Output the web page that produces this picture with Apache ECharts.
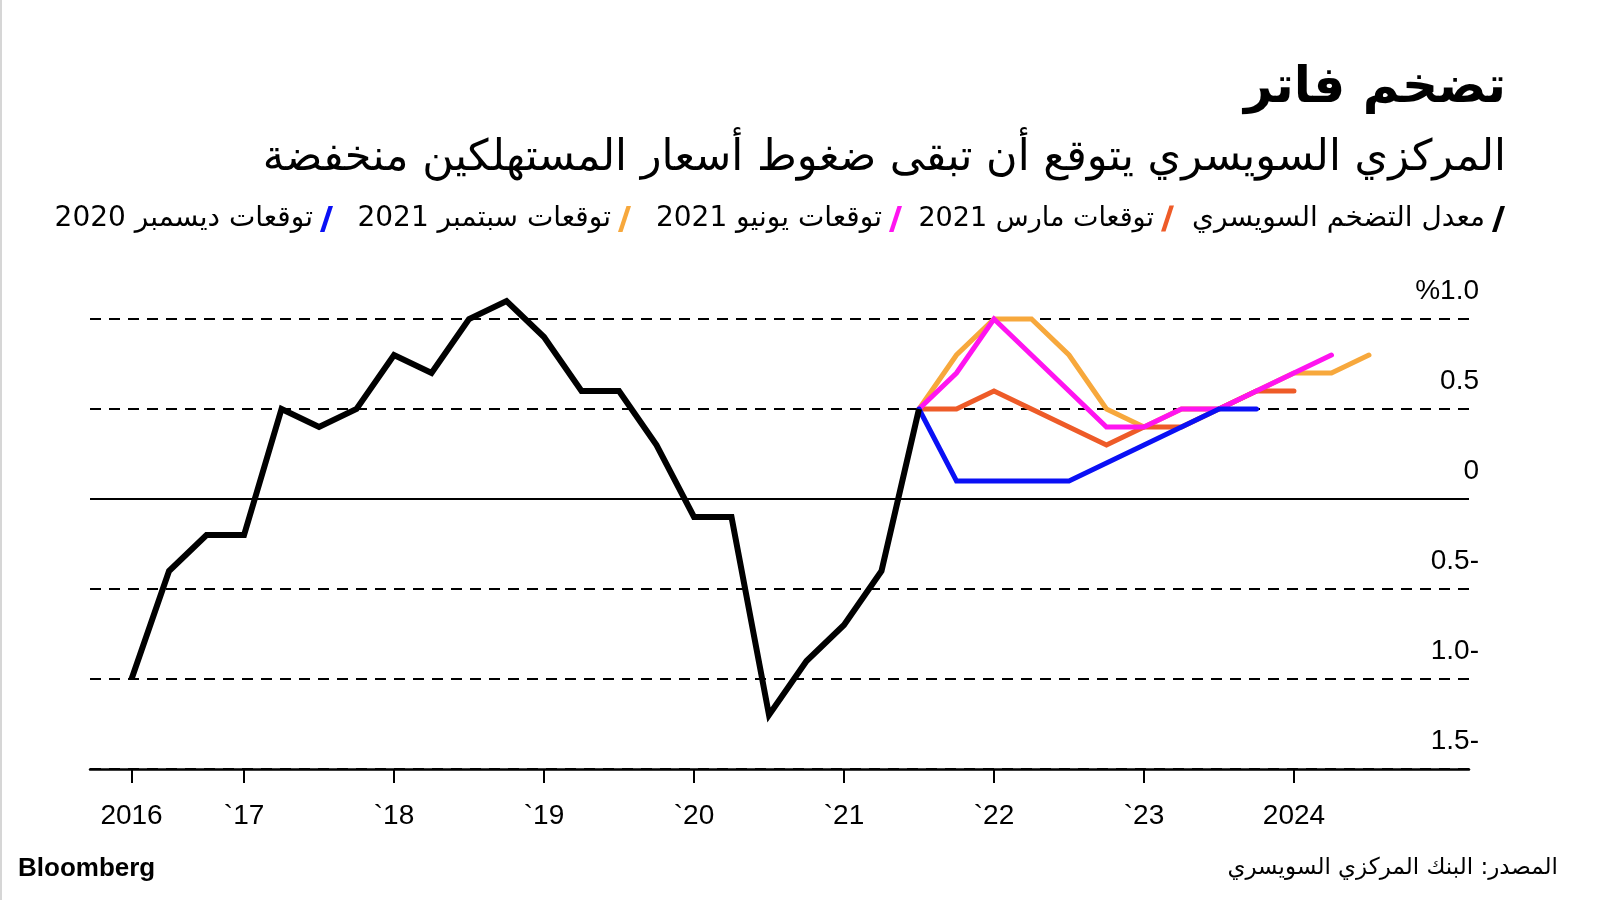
<!DOCTYPE html>
<html><head><meta charset="utf-8">
<script src="https://cdn.jsdelivr.net/npm/echarts@6/dist/echarts.min.js"></script>
<style>html,body{margin:0;padding:0;background:#fff}#c{width:1600px;height:900px}</style>
</head><body><div id="c"></div>
<script>
// ---- text ----
const titleText = 'تضخم فاتر';
const subtitleText = 'المركزي السويسري يتوقع أن تبقى ضغوط أسعار المستهلكين منخفضة';
const sourceText = 'المصدر: البنك المركزي السويسري';
const brandText = 'Bloomberg';

// ---- categories (quarters) ----
const quarters = ["2016Q2","2016Q3","2016Q4","2017Q1","2017Q2","2017Q3","2017Q4","2018Q1","2018Q2","2018Q3","2018Q4",
  "2019Q1","2019Q2","2019Q3","2019Q4","2020Q1","2020Q2","2020Q3","2020Q4","2021Q1","2021Q2","2021Q3","2021Q4",
  "2022Q1","2022Q2","2022Q3","2022Q4","2023Q1","2023Q2","2023Q3","2023Q4","2024Q1","2024Q2","2024Q3"];

// ---- series names ----
const nameActual = 'معدل التضخم السويسري';
const nameMar21 = 'توقعات مارس 2021';
const nameJun21 = 'توقعات يونيو 2021';
const nameSep21 = 'توقعات سبتمبر 2021';
const nameDec20 = 'توقعات ديسمبر 2020';

// ---- values (%, quarterly) ----
const actualStart = "2016Q2";
const actual = [-1.0,-0.4,-0.2,-0.2,0.5,0.4,0.5,0.8,0.7,1.0,1.1,0.9,0.6,0.6,0.3,-0.1,-0.1,-1.2,-0.9,-0.7,-0.4,0.5];
const forecastStart = "2021Q3";
const fcDec20 = [0.5,0.1,0.1,0.1,0.1,0.2,0.3,0.4,0.5,0.5];
const fcMar21 = [0.5,0.5,0.6,0.5,0.4,0.3,0.4,0.4,0.5,0.6,0.6];
const fcJun21 = [0.5,0.7,1.0,0.8,0.6,0.4,0.4,0.5,0.5,0.6,0.7,0.8];
const fcSep21 = [0.5,0.8,1.0,1.0,0.8,0.5,0.4,0.5,0.5,0.6,0.7,0.7,0.8];

// ---- ticks ----
const yTicks = [-1.5,-1.0,-0.5,0,0.5,1.0];
const yTickLabels = ['1.5-','1.0-','0.5-','0','0.5','%1.0'];
const xTickQuarters = ["2016Q2","2017Q1","2018Q1","2019Q1","2020Q1","2021Q1","2022Q1","2023Q1","2024Q1"];
const xTickLabels = ['2016','`17','`18','`19','`20','`21','`22','`23','2024'];

// ---- helpers ----
function qToYear(q){ return parseInt(q.slice(0,4),10) + (parseInt(q.slice(5),10)-1)/4; }
function pairs(start, vals){
  const i0 = quarters.indexOf(start);
  return vals.map((v,i)=>[qToYear(quarters[i0+i]), v]);
}
const xTickValues = xTickQuarters.map(qToYear);

const AR = "'DejaVu Sans', sans-serif";
const LAT = "'Liberation Sans', Arial, sans-serif";

const colors = {actual:'#000000', mar:'#EE5B28', jun:'#FF14F0', sep:'#F7A83C', dec:'#0A10F5'};
const slash = 'path://M0,26 L8.5,0 L13,0 L4.5,26 Z';

function legendFor(name, right, size){
  return {data:[name], right:right, top:205, orient:'horizontal', align:'right', padding:0,
    icon:slash, itemWidth:13, itemHeight:26, selectedMode:false,
    itemStyle:{borderWidth:0},
    textStyle:{fontFamily:AR, fontSize:size || 28, color:'#000', padding:[0,2,0,0]}};
}
function lineSeries(name, data, color, width, cap){
  return {name:name, type:'line', data:data, showSymbol:false, symbol:'none', clip:false,
    color:color, itemStyle:{color:color},
    lineStyle:{color:color, width:width, cap:cap, join:'miter'}, emphasis:{disabled:true}};
}

const chart = echarts.init(document.getElementById('c'), null, {renderer:'canvas'});
const blackSeries = lineSeries(nameActual, pairs(actualStart, actual), colors.actual, 6, 'butt');
blackSeries.markLine = {silent:true, symbol:'none', label:{show:false}, animation:false,
  lineStyle:{color:'#000', type:'solid', width:2}, data:[{yAxis:0}]};

chart.setOption({
  animation:false,
  backgroundColor:'#fff',
  title:[
    {text:titleText, right:94, top:64, padding:0,
     textStyle:{fontFamily:AR, fontWeight:'bold', fontSize:50, color:'#000'}},
    {text:subtitleText, right:94, top:137, padding:0,
     textStyle:{fontFamily:AR, fontWeight:'normal', fontSize:43, color:'#000'}},
    {text:sourceText, right:42, top:857, padding:0,
     textStyle:{fontFamily:AR, fontWeight:'normal', fontSize:23, color:'#000'}},
    {text:brandText, left:18, top:856, padding:0,
     textStyle:{fontFamily:LAT, fontWeight:'bold', fontSize:26, color:'#000'}}
  ],
  legend:[
    legendFor(nameActual, 95),
    legendFor(nameMar21, 426, 27),
    legendFor(nameJun21, 698),
    legendFor(nameSep21, 969),
    legendFor(nameDec20, 1267)
  ],
  grid:{left:90, right:131, top:319, bottom:131, containLabel:false},
  xAxis:{type:'value', min:2015.973, max:2025.167,
    axisLine:{show:true, onZero:false, lineStyle:{color:'#000', width:2.5}},
    axisTick:{show:true, customValues:xTickValues, length:14, lineStyle:{color:'#000', width:2}},
    axisLabel:{show:true, customValues:xTickValues, margin:33, fontFamily:LAT, fontSize:28, color:'#000',
      formatter:(v)=>{ const i = xTickValues.findIndex(t=>Math.abs(t-v)<1e-6); return i>=0 ? xTickLabels[i] : ''; }},
    splitLine:{show:false}},
  yAxis:{type:'value', position:'right', min:-1.5, max:1.0, interval:0.5,
    axisLine:{show:false}, axisTick:{show:false},
    axisLabel:{show:true, showMinLabel:true, showMaxLabel:true, hideOverlap:false,
      align:'right', verticalAlign:'bottom', margin:10, lineHeight:56,
      fontFamily:LAT, fontSize:28, color:'#000',
      formatter:(v)=>{ const i = yTicks.findIndex(t=>Math.abs(t-v)<1e-6); return i>=0 ? yTickLabels[i] : ''; }},
    splitLine:{show:true, lineStyle:{color:'#000', width:2, type:[11,8]}}},
  graphic:[{type:'rect', left:0, top:0, shape:{width:2, height:900}, style:{fill:'#d6d6d6'}, silent:true}],
  series:[
    lineSeries(nameSep21, pairs(forecastStart, fcSep21), colors.sep, 5, 'round'),
    lineSeries(nameMar21, pairs(forecastStart, fcMar21), colors.mar, 5, 'round'),
    lineSeries(nameJun21, pairs(forecastStart, fcJun21), colors.jun, 5, 'round'),
    lineSeries(nameDec20, pairs(forecastStart, fcDec20), colors.dec, 5, 'round'),
    blackSeries
  ]
});
</script></body></html>
